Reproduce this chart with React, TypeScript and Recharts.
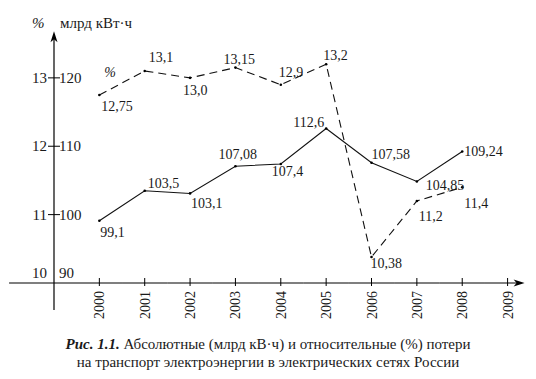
import React from 'react';
import { LineChart, Line, XAxis, YAxis, ReferenceLine, LabelList } from 'recharts';

const years = [2000, 2001, 2002, 2003, 2004, 2005, 2006, 2007, 2008];
const energyLoss = [99.1, 103.5, 103.1, 107.08, 107.4, 112.6, 107.58, 104.85, 109.24];
const pctLoss = [12.75, 13.1, 13.0, 13.15, 12.9, 13.2, 10.38, 11.2, 11.4];
const energyLabels = ['99,1', '103,5', '103,1', '107,08', '107,4', '112,6', '107,58', '104,85', '109,24'];
const pctLabels = ['12,75', '13,1', '13,0', '13,15', '12,9', '13,2', '10,38', '11,2', '11,4'];
const yearTicks = [2000, 2001, 2002, 2003, 2004, 2005, 2006, 2007, 2008, 2009];
const energyTicks = [90, 100, 110, 120];
const pctTickLabels = ['10', '11', '12', '13'];
const pctTitle = '%';
const energyTitle = 'млрд кВт·ч';
const seriesTag = '%';
const captionBold = 'Рис. 1.1.';
const captionLine1 = ' Абсолютные (млрд кВ·ч) и относительные (%) потери';
const captionLine2 = 'на транспорт электроэнергии в электрических сетях России';

const data = years.map((y, i) => ({ year: y, energy: energyLoss[i], pct: pctLoss[i] }));

// label placement (dx, dy from the point; anchor)
const energyPos: [number, number, string][] = [
  [1, 16, 'start'], [3, -3, 'start'], [1, 15, 'start'], [-17, -7, 'start'], [-9, 12, 'start'],
  [-2, -1, 'end'], [0, -4, 'start'], [9, 9, 'start'], [2, 5, 'start'],
];
const pctPos: [number, number, string][] = [
  [2, 16, 'start'], [4, -9, 'start'], [-7, 17, 'start'], [-12, -4, 'start'], [-2, -8, 'start'],
  [-3, -4, 'start'], [-1, 11, 'start'], [2, 20, 'start'], [2, 21, 'start'],
];

const FONT = "'Liberation Serif', 'Times New Roman', 'DejaVu Serif', serif";
const STEP = 45.4; // px between year ticks (axis decoration only)

const makeLabel = (labels: string[], pos: [number, number, string][], values: number[], extra?: boolean) =>
  (props: any) => {
    const x = props.x ?? props.viewBox?.x;
    const y = props.y ?? props.viewBox?.y;
    let i = props.index;
    if (i === undefined || i === null) i = values.indexOf(props.value);
    if (i < 0 || x === undefined) return null;
    const [dx, dy, anchor] = pos[i];
    return (
      <g>
        <text x={x + dx} y={y + dy} textAnchor={anchor as any} fontSize={14} style={{ fontFamily: FONT }} fill="#1a1a1a">
          {labels[i]}
        </text>
        {extra && i === 0 ? (
          <text x={x + 5} y={y - 18} fontSize={14} fontStyle="italic" style={{ fontFamily: FONT }} fill="#1a1a1a">
            {seriesTag}
          </text>
        ) : null}
      </g>
    );
  };

const YearTick = (props: any) => {
  const { x, y, payload } = props;
  const i = yearTicks.indexOf(payload.value);
  const first = i === 0;
  const last = i === yearTicks.length - 1;
  const left = first ? x - 2 * STEP + 0.5 : x - STEP / 2;
  const right = last ? x + 10 : x + STEP / 2;
  const tip = x + 17;
  return (
    <g>
      <path d={`M${left},${y} H${right}`} stroke="#000" strokeWidth={1.2} fill="none" />
      {last ? (
        <path d={`M${tip},${y} L${tip - 11},${y - 3.5} L${tip - 8},${y} L${tip - 11},${y + 3.5} Z`} fill="#000" />
      ) : null}
      <line x1={x} x2={x} y1={y - 5} y2={y + 3} stroke="#000" strokeWidth={1} />
      <text
        x={x + 5}
        y={y + 8}
        transform={`rotate(-90, ${x + 5}, ${y + 8})`}
        textAnchor="end"
        fontSize={14}
        style={{ fontFamily: FONT }}
        fill="#1a1a1a"
      >
        {payload.value}
      </text>
    </g>
  );
};

const EnergyTick = (props: any) => {
  const { x, y, payload } = props;
  const i = energyTicks.indexOf(payload.value);
  const first = i === 0;
  const ty = first ? y - 5 : y + 5;
  return (
    <g>
      {!first && <line x1={x - 6} x2={x + 6} y1={y} y2={y} stroke="#000" strokeWidth={1} />}
      <text x={x - 7} y={ty} textAnchor="end" fontSize={15} style={{ fontFamily: FONT }} fill="#1a1a1a">
        {pctTickLabels[i]}
      </text>
      <text x={x + 5} y={ty} textAnchor="start" fontSize={15} style={{ fontFamily: FONT }} fill="#1a1a1a">
        {payload.value}
      </text>
    </g>
  );
};

const VAxis = (props: any) => {
  const { x1, y1, y2 } = props;
  const top = Math.min(y1, y2);
  const bottom = Math.max(y1, y2);
  return (
    <g>
      <line x1={x1} y1={bottom} x2={x1} y2={top + 6} stroke="#000" strokeWidth={1.2} />
      <path d={`M${x1},${top} L${x1 - 3.5},${top + 11} L${x1},${top + 8} L${x1 + 3.5},${top + 11} Z`} fill="#000" />
      <text x={x1 - 22} y={top - 3} fontSize={15} fontStyle="italic" style={{ fontFamily: FONT }} fill="#1a1a1a">
        {pctTitle}
      </text>
      <text x={x1 + 6} y={top - 3} fontSize={15} style={{ fontFamily: FONT }} fill="#1a1a1a">
        {energyTitle}
      </text>
    </g>
  );
};

export default function App() {
  return (
    <div style={{ position: 'absolute', left: 0, top: 0, width: 536, height: 379, background: '#fff', fontFamily: FONT }}>
      <LineChart
        width={536}
        height={379}
        data={data}
        margin={{ top: 30, right: 8, left: 53, bottom: 56 }}
      >
        <XAxis
          dataKey="year"
          type="number"
          domain={[1999, 2009.45]}
          ticks={yearTicks}
          interval={0}
          axisLine={false}
          tickLine={false}
          tickSize={0}
          tickMargin={0}
          height={40}
          allowDataOverflow
          tick={<YearTick />}
        />
        <YAxis
          yAxisId="e"
          domain={[90, 127]}
          ticks={energyTicks}
          interval={0}
          axisLine={false}
          tickLine={false}
          tickSize={0}
          tickMargin={0}
          width={1}
          allowDataOverflow
          tick={<EnergyTick />}
        />
        <YAxis yAxisId="p" hide domain={[10, 13.7]} allowDataOverflow />
        <ReferenceLine
          yAxisId="e"
          segment={[{ x: 1999, y: 86.05 }, { x: 1999, y: 126.8 }]}
          ifOverflow="visible"
          shape={VAxis}
        />
        <Line
          yAxisId="e"
          dataKey="energy"
          stroke="#111"
          strokeWidth={1.1}
          dot={{ r: 1.3, fill: '#000', stroke: '#000', strokeWidth: 0 }}
          isAnimationActive={false}
        >
          <LabelList dataKey="energy" content={makeLabel(energyLabels, energyPos, energyLoss)} />
        </Line>
        <Line
          yAxisId="p"
          dataKey="pct"
          stroke="#111"
          strokeWidth={1.1}
          strokeDasharray="8 5"
          dot={{ r: 1.3, fill: '#000', stroke: '#000', strokeWidth: 0 }}
          isAnimationActive={false}
        >
          <LabelList dataKey="pct" content={makeLabel(pctLabels, pctPos, pctLoss, true)} />
        </Line>
      </LineChart>
      <div
        style={{
          position: 'absolute',
          left: 0,
          top: 335,
          width: 536,
          textAlign: 'center',
          fontSize: 15,
          lineHeight: '18px',
          color: '#1a1a1a',
        }}
      >
        <div>
          <b><i>{captionBold}</i></b>
          {captionLine1}
        </div>
        <div>{captionLine2}</div>
      </div>
    </div>
  );
}
